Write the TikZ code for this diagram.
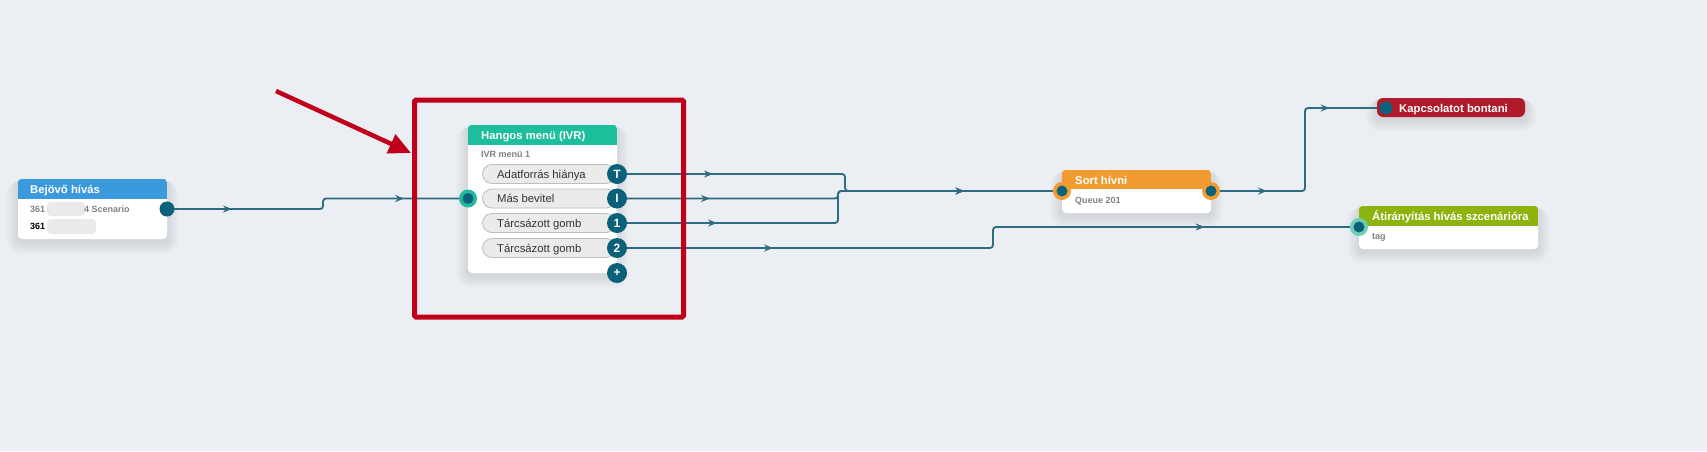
\documentclass[tikz,border=0pt]{standalone}
\usepackage{fontspec}
\setmainfont{Liberation Sans}
\usetikzlibrary{arrows.meta,decorations.markings,calc}
\definecolor{bgc}{HTML}{EBEEF3}
\definecolor{wirec}{HTML}{2F6B82}
\definecolor{portc}{HTML}{0B6179}
\definecolor{hblue}{HTML}{3A9ADB}
\definecolor{hteal}{HTML}{1DBE9B}
\definecolor{horange}{HTML}{F29B31}
\definecolor{hred}{HTML}{AF1B2B}
\definecolor{hgreen}{HTML}{8DB30E}
\definecolor{redbox}{HTML}{C0001A}
\definecolor{txtgray}{HTML}{808080}
\definecolor{pillfill}{HTML}{EBEBEB}
\definecolor{pillline}{HTML}{BDBDBD}
\definecolor{ringteal}{HTML}{22B99A}
\definecolor{ringlight}{HTML}{6FCDB9}
\definecolor{blurc}{HTML}{EAEAEC}
\pgfdeclarelayer{bg}\pgfdeclarelayer{shad}\pgfdeclarelayer{wires}
\pgfsetlayers{bg,shad,wires,main}
\newcommand\mysh[1]{\begin{pgfonlayer}{shad}\foreach \i in {1,...,12}{\fill[black,opacity=0.009,rounded corners={(4+\i)*1pt}] ([xshift=-\i pt,yshift=-1pt]#1.north west) rectangle ([xshift=\i pt,yshift=-\i pt-3pt]#1.south east);}\end{pgfonlayer}}
\begin{document}
\begin{tikzpicture}[x=1pt,y=-1pt,
  card/.style={fill=white,rounded corners=4pt,inner sep=0pt},
  htext/.style={text=white,font=\bfseries\fontsize{11.3}{13}\selectfont,anchor=base west,inner sep=0pt},
  btext/.style={text=txtgray,font=\bfseries\fontsize{9}{11}\selectfont,anchor=base west,inner sep=0pt},
  pill/.style={fill=pillfill,draw=pillline,line width=0.8pt,rounded corners=9.5pt,minimum width=133pt,minimum height=19pt,inner sep=0pt},
  ptext/.style={text=black!80,font=\fontsize{11.3}{13}\selectfont,anchor=base west,inner sep=0pt},
  opt/.style={circle,fill=portc,minimum size=20pt,inner sep=0pt,text=white,font=\bfseries\fontsize{12}{14}\selectfont},
  dport/.style={circle,fill=portc,minimum size=#1,inner sep=0pt},
  ring/.style={circle,fill=#1,minimum size=18pt,inner sep=0pt},
  wire/.style={draw=wirec,line width=1.8pt,rounded corners=3pt},
  wtip/.tip={Stealth[length=9pt,width=7pt,inset=3pt]}
]
\useasboundingbox (0,0) rectangle (1707,451);
\begin{pgfonlayer}{bg}
\fill[bgc] (0,0) rectangle (1707,451);
\end{pgfonlayer}

% ---------- Bejovo hivas ----------
\node[card,minimum width=149pt,minimum height=60pt] (bej) at (92.5,209) {};
\mysh{bej}
\begin{scope}
\clip[rounded corners=4pt] (bej.south west) rectangle (bej.north east);
\fill[hblue] (bej.north west) rectangle ($(bej.north east)+(0,20)$);
\end{scope}
\node[htext] (bejt) at (30,193.5) {Bejövő hívás};
\node[btext] (bej1) at (30,212.3) {361};
\fill[blurc,rounded corners=4pt] (47,202) rectangle (85,216);
\node[btext] (bej1b) at (84,212.3) {4 Scenario};
\node[btext,text=black] (bej2) at (30,229.3) {361};
\fill[blurc,rounded corners=4pt] (47,219) rectangle (96,234);
\node[dport=15pt] (bport) at (167,209) {};

% ---------- Hangos menu (IVR) ----------
\node[card,minimum width=149pt,minimum height=148pt] (ivr) at (542.5,199) {};
\mysh{ivr}
\begin{scope}
\clip[rounded corners=4pt] (ivr.south west) rectangle (ivr.north east);
\fill[hteal] (ivr.north west) rectangle ($(ivr.north east)+(0,20)$);
\end{scope}
\node[htext] (ivrt) at (481,139) {Hangos menü (IVR)};
\node[btext] (ivrs) at (481,157.8) {IVR menü 1};
\node[pill] (pA) at (549,174) {};
\node[pill] (pB) at (549,198.5) {};
\node[pill] (pC) at (549,223) {};
\node[pill] (pD) at (549,248) {};
\node[ptext] at (497,178) {Adatforrás hiánya};
\node[ptext] at (497,202.5) {Más bevitel};
\node[ptext] at (497,227) {Tárcsázott gomb};
\node[ptext] at (497,252) {Tárcsázott gomb};
\node[opt] (tport) at (617,174) {T};
\node[opt] (iport) at (617,198.5) {I};
\node[opt] (p1) at (617,223) {1};
\node[opt] (p2) at (617,248) {2};
\node[opt] (pplus) at (617,273) {+};
\node[ring=ringteal] (ivrinr) at (468,198.5) {};
\node[dport=11pt] (ivrin) at (468,198.5) {};

% ---------- highlight box and arrow ----------
\node[draw=redbox,line width=5pt,rounded corners=1.5pt,minimum width=269pt,minimum height=217pt,inner sep=0pt] (hl) at (549,208.5) {};
\coordinate (arrS) at (276,91);
\coordinate (arrT) at (411,153);
\draw[redbox,line width=4.5pt,-{Triangle[length=22pt,width=20pt]}] (arrS) -- (arrT);

% ---------- Sort hivni ----------
\node[card,minimum width=149pt,minimum height=43pt] (sort) at (1136.5,191.5) {};
\mysh{sort}
\begin{scope}
\clip[rounded corners=4pt] (sort.south west) rectangle (sort.north east);
\fill[horange] (sort.north west) rectangle ($(sort.north east)+(0,19.5)$);
\end{scope}
\node[htext] (sortt) at (1075,184) {Sort hívni};
\node[btext] (sorts) at (1075,203.3) {Queue 201};
\node[ring=horange] (sinr) at (1062,191) {};
\node[dport=11pt] (sin) at (1062,191) {};
\node[ring=horange] (soutr) at (1211,191) {};
\node[dport=11pt] (sout) at (1211,191) {};

% ---------- Kapcsolatot bontani ----------
\node[fill=hred,rounded corners=6pt,minimum width=148pt,minimum height=19pt,inner sep=0pt] (kap) at (1451,107.5) {};
\mysh{kap}
\node[htext] (kapt) at (1399,112) {Kapcsolatot bontani};
\node[dport=13pt] (kport) at (1386,108) {};

% ---------- Atiranyitas ----------
\node[card,minimum width=179pt,minimum height=43pt] (ati) at (1448.5,227.5) {};
\mysh{ati}
\begin{scope}
\clip[rounded corners=4pt] (ati.south west) rectangle (ati.north east);
\fill[hgreen] (ati.north west) rectangle ($(ati.north east)+(0,20)$);
\end{scope}
\node[htext] (atit) at (1372,220.5) {Átirányítás hívás szcenárióra};
\node[btext] (atis) at (1372,239.8) {tag};
\node[ring=ringlight] (aportr) at (1359,227) {};
\node[dport=11pt] (aport) at (1359,227) {};

% ---------- wires ----------
\begin{pgfonlayer}{wires}
\draw[wire,postaction={decorate},decoration={markings,
   mark=at position 65pt with {\arrow{wtip}},
   mark=at position 245pt with {\arrow{wtip}}}]
  (bport.center) -- (323,209) -- (323,198.5) -- (ivrin.center);
\draw[wire,postaction={decorate},decoration={markings,
   mark=at position 96pt with {\arrow{wtip}},
   mark=at position 362pt with {\arrow{wtip}}}]
  (tport.center) -- (845,174) -- (845,191) -- (sin.center);
\draw[wire,postaction={decorate},decoration={markings,
   mark=at position 93pt with {\arrow{wtip}},
   mark=at position 352pt with {\arrow{wtip}}}]
  (iport.center) -- (838,198.5) -- (838,191) -- (sin.center);
\draw[wire,postaction={decorate},decoration={markings,
   mark=at position 100pt with {\arrow{wtip}}}]
  (p1.center) -- (838,223) -- (838,191) -- (sin.center);
\draw[wire,postaction={decorate},decoration={markings,
   mark=at position 156pt with {\arrow{wtip}},
   mark=at position 606pt with {\arrow{wtip}}}]
  (p2.center) -- (993,248) -- (993,227) -- (aport.center);
\draw[wire,postaction={decorate},decoration={markings,
   mark=at position 56pt with {\arrow{wtip}},
   mark=at position 199pt with {\arrow{wtip}}}]
  (sout.center) -- (1305,191) -- (1305,108) -- (kport.center);
\end{pgfonlayer}
\end{tikzpicture}
\end{document}
